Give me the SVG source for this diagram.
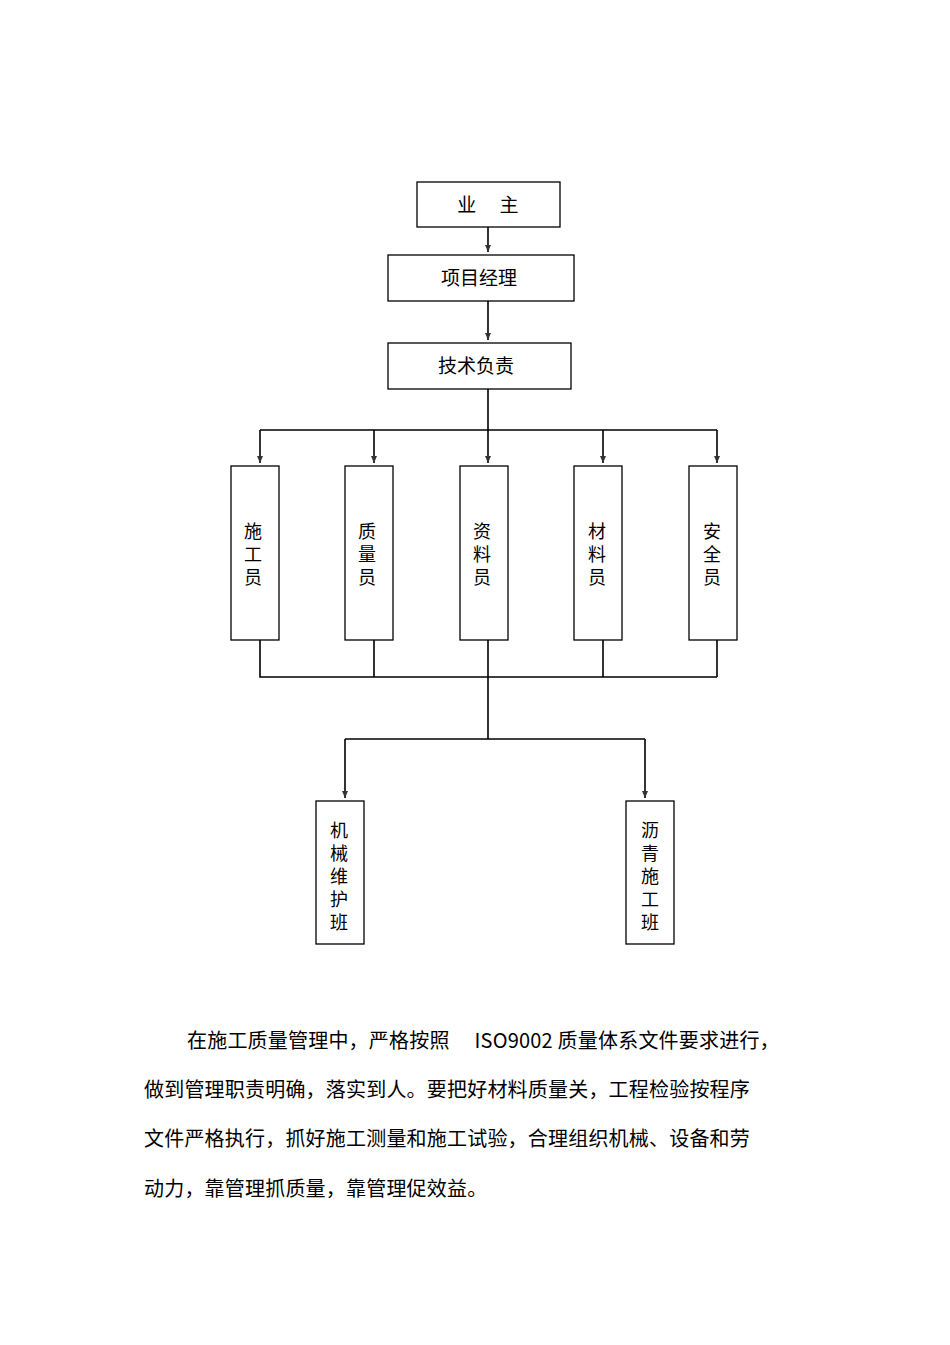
<svg xmlns="http://www.w3.org/2000/svg" width="950" height="1345" viewBox="0 0 950 1345">
<defs>
<marker id="a" markerWidth="8" markerHeight="8" refX="7" refY="4" orient="auto" markerUnits="userSpaceOnUse"><path d="M0,1 L7,4 L0,7 Z" fill="#333"/></marker>
<style>
.b{fill:#fff;stroke:#000;stroke-width:1.3}
.t{font-family:"Noto Sans CJK SC","Noto Sans",sans-serif;font-size:19px;fill:#000;text-anchor:middle}
.v{font-family:"Noto Sans CJK SC","Noto Sans",sans-serif;font-size:18px;fill:#000;text-anchor:middle}
.p{font-family:"Noto Sans CJK SC","Liberation Sans",sans-serif;font-size:20px;letter-spacing:0.2px;fill:#000}
.c{fill:none;stroke:#000;stroke-width:1.6}
</style>
</defs>
<rect width="950" height="1345" fill="#fff"/>
<g id="connectors">
<path class="c" d="M488,227 V252" marker-end="url(#a)"/>
<path class="c" d="M488,301 V340" marker-end="url(#a)"/>
<path class="c" d="M488,389 V463" marker-end="url(#a)"/>
<path class="c" d="M260,430 H717"/>
<path class="c" d="M260,430 V463" marker-end="url(#a)"/>
<path class="c" d="M374,430 V463" marker-end="url(#a)"/>
<path class="c" d="M603,430 V463" marker-end="url(#a)"/>
<path class="c" d="M717,430 V463" marker-end="url(#a)"/>
<path class="c" d="M260,640 V677 H717 M374,640 V677 M488,640 V739 M603,640 V677 M717,640 V677"/>
<path class="c" d="M345,739 H645"/>
<path class="c" d="M345,739 V798" marker-end="url(#a)"/>
<path class="c" d="M645,739 V798" marker-end="url(#a)"/>
</g>
<g id="n1"><rect class="b" x="417" y="182" width="143" height="45"/><text class="t" x="488" y="212">业　 主</text></g>
<g id="n2"><rect class="b" x="388" y="255" width="186" height="46"/><text class="t" x="479" y="285">项目经理</text></g>
<g id="n3"><rect class="b" x="388" y="343" width="183" height="46"/><text class="t" x="476" y="373">技术负责</text></g>
<g id="n4"><rect class="b" x="231" y="466" width="48" height="174"/><text class="v" x="253" y="538">施</text><text class="v" x="253" y="561">工</text><text class="v" x="253" y="584">员</text></g>
<g id="n5"><rect class="b" x="345" y="466" width="48" height="174"/><text class="v" x="367" y="538">质</text><text class="v" x="367" y="561">量</text><text class="v" x="367" y="584">员</text></g>
<g id="n6"><rect class="b" x="460" y="466" width="48" height="174"/><text class="v" x="482" y="538">资</text><text class="v" x="482" y="561">料</text><text class="v" x="482" y="584">员</text></g>
<g id="n7"><rect class="b" x="574" y="466" width="48" height="174"/><text class="v" x="597" y="538">材</text><text class="v" x="597" y="561">料</text><text class="v" x="597" y="584">员</text></g>
<g id="n8"><rect class="b" x="689" y="466" width="48" height="174"/><text class="v" x="712" y="538">安</text><text class="v" x="712" y="561">全</text><text class="v" x="712" y="584">员</text></g>
<g id="n9"><rect class="b" x="316" y="801" width="48" height="143"/><text class="v" x="339" y="837">机</text><text class="v" x="339" y="860">械</text><text class="v" x="339" y="883">维</text><text class="v" x="339" y="906">护</text><text class="v" x="339" y="929">班</text></g>
<g id="n10"><rect class="b" x="626" y="801" width="48" height="143"/><text class="v" x="650" y="837">沥</text><text class="v" x="650" y="860">青</text><text class="v" x="650" y="883">施</text><text class="v" x="650" y="906">工</text><text class="v" x="650" y="929">班</text></g>
<text class="p" x="187" y="1048">在施工质量管理中，严格按照　 ISO9002 质量体系文件要求进行，</text>
<text class="p" x="144" y="1097">做到管理职责明确，落实到人。要把好材料质量关，工程检验按程序</text>
<text class="p" x="144" y="1146">文件严格执行，抓好施工测量和施工试验，合理组织机械、设备和劳</text>
<text class="p" x="144" y="1196">动力，靠管理抓质量，靠管理促效益。</text>
</svg>
